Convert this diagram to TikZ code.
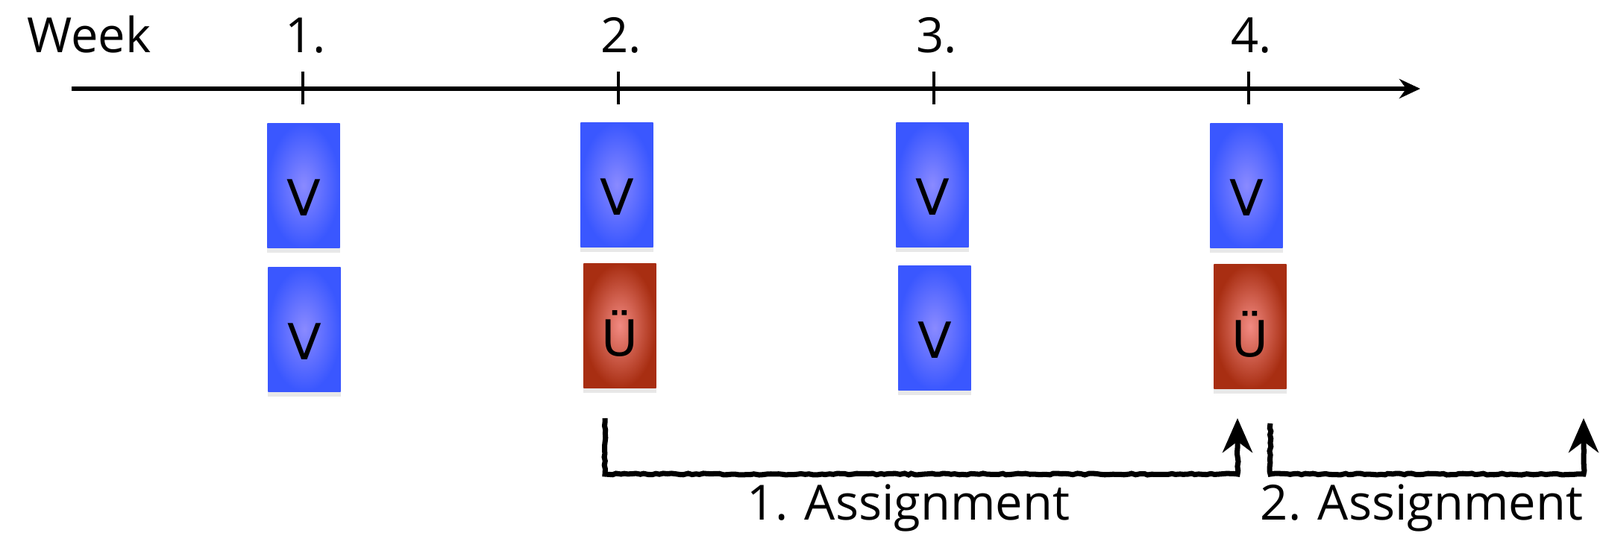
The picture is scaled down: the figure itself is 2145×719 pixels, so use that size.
\documentclass[tikz,border=0pt]{standalone}
\usepackage{fontspec}
\setmainfont{Open Sans}
\newfontfamily\boxfont{DejaVu Sans}
\usetikzlibrary{arrows.meta,positioning,calc,shadows,decorations.pathmorphing}
\definecolor{Lec}{HTML}{3A57FF}
\definecolor{LecMid}{HTML}{8A8AFF}
\definecolor{Ex}{HTML}{A82E12}
\definecolor{ExMid}{HTML}{F28A82}
\tikzset{slot/.style={minimum width=0.97cm,minimum height=1.67cm,inner sep=0pt,text height=8mm,text depth=0pt,font=\boxfont\fontsize{19}{19}\selectfont,drop shadow={shadow xshift=0pt,shadow yshift=-0.6mm,opacity=.18}},lec/.style={slot,inner color=LecMid,outer color=Lec},ex/.style={slot,inner color=ExMid,outer color=Ex},lab/.style={font=\fontsize{18.5}{21}\selectfont,anchor=base},axis/.style={-{Stealth[length=2.8mm,width=2.6mm]},line width=1.6pt},tickmark/.style={line width=.9pt},hand/.style={-{Stealth[length=4.6mm,width=4mm]},line width=2pt,decorate,decoration={random steps,segment length=1.5pt,amplitude=.3pt,post length=4mm}}}

\begin{document}
\begin{tikzpicture}[x=0.01cm,y=-0.01cm]
\useasboundingbox (0,0) rectangle (2145,719);
\node[lab,anchor=base west] (wk) at (24,71) {Week};
\coordinate (t0) at (96,119); \coordinate (t5) at (1904,119);
\draw[axis] (t0)--(t5);
\foreach \i/\x in {1/406,2/829,3/1252,4/1674}{
  \draw[tickmark] (\x,96)--(\x,140);
  \node[lab] (w\i) at (\x+4,71) {\i.};
}
% lectures and exercises
\node[lec] (v1) at (407,249) {V}; \node[lec] (v1b) at (408,442) {V};
\node[lec] (v2) at (827,248) {V}; \node[ex] (u2) at (831,437) {Ü};
\node[lec] (v3) at (1250,248) {V}; \node[lec] (v3b) at (1253,440) {V};
\node[lec] (v4) at (1671,249) {V}; \node[ex] (u4) at (1676,438) {Ü};
% assignments
\coordinate (a1) at (811,561); \coordinate (e1) at (1659,561);
\coordinate (a2) at (1703,568); \coordinate (e2) at (2123,561);
\draw[hand] (a1) |- ($(e1)+(0,75)$) -- (e1);
\draw[hand] (a2) |- ($(e2)+(0,75)$) -- (e2);
\node[lab] (as1) at (1218,698) {1. Assignment};
\node[lab] (as2) at (1906,698) {2. Assignment};
\end{tikzpicture}
\end{document}
